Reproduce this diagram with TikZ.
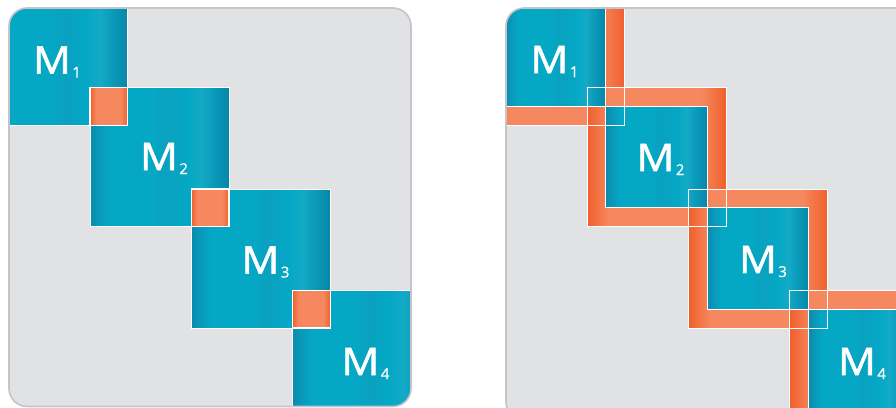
\documentclass[tikz,border=0pt]{standalone}
\usepackage{fontspec}
\setmainfont{Open Sans}
\newfontfamily\labfont[FakeBold=1.6,FakeStretch=1.1]{Open Sans}
\newfontfamily\subfont[FakeBold=0.8]{Open Sans}
\definecolor{panelfill}{HTML}{E1E2E4}
\definecolor{panelline}{HTML}{C4C5C8}
\definecolor{tA}{HTML}{0A8BAE}
\definecolor{tB}{HTML}{0A98B8}
\definecolor{tC}{HTML}{04A8C5}
\definecolor{tD}{HTML}{0AA1C0}
\definecolor{tE}{HTML}{14AAC6}
\definecolor{tF}{HTML}{0686A9}
\definecolor{oA}{HTML}{F0602C}
\definecolor{oB}{HTML}{F5885E}
\pgfdeclarehorizontalshading{tealsh}{100bp}{color(0bp)=(tA); color(25bp)=(tA); color(28bp)=(tB); color(32bp)=(tC); color(47bp)=(tC); color(52bp)=(tD); color(60bp)=(tC); color(65bp)=(tE); color(70bp)=(tB); color(75bp)=(tF); color(100bp)=(tF)}
\pgfdeclarehorizontalshading{orangesh}{100bp}{color(0bp)=(oA); color(25bp)=(oA); color(33bp)=(oB); color(66bp)=(oB); color(75bp)=(oA); color(100bp)=(oA)}
\newcommand\mlab[1]{{\labfont M}\kern1.5pt\raisebox{-4pt}{\subfont\fontsize{15}{15}\selectfont #1}}
\tikzset{
  panel/.style={rounded corners=18pt},
  paneledge/.style={draw=panelline, line width=1.6pt, rounded corners=18pt},
  tealblk/.style={shading=tealsh},
  orangeblk/.style={shading=orangesh},
  wline/.style={draw=white, line width=0.9pt},
  wlinethick/.style={draw=white, line width=1.3pt},
  lab/.style={text=white, inner sep=0pt, font=\fontsize{38}{38}\selectfont}
}
\begin{document}
\begin{tikzpicture}[x=1pt,y=-1pt]
\useasboundingbox (0,0) rectangle (896,407);
% ---------------- left panel ----------------
\fill[panelfill, panel] (9,8) rectangle (411,406.5);
\begin{scope}
  \clip[panel] (9,8) rectangle (411,406.5);
  \foreach \i in {0,...,3}{
    \pgfmathsetmacro\xa{-11.25+101.25*\i}
    \pgfmathsetmacro\ya{-13.5+101.25*\i}
    \shade[tealblk] (\xa,\ya) rectangle ++(139,139);
  }
  \foreach \i in {0,...,3}{
    \pgfmathsetmacro\xa{-11.25+101.25*\i}
    \pgfmathsetmacro\ya{-13.5+101.25*\i}
    \draw[wline] (\xa,\ya) rectangle ++(139,139);
  }
  \foreach \i in {1,2,3}{
    \pgfmathsetmacro\xa{-11.25+101.25*\i}
    \pgfmathsetmacro\ya{-13.5+101.25*\i}
    \shade[orangeblk] (\xa,\ya) rectangle ++(37.75,37.75);
    \draw[wlinethick] (\xa,\ya) rectangle ++(37.75,37.75);
  }
\end{scope}
\draw[paneledge] (9,8) rectangle (411,406.5);
\node[lab] (a1) at (57,62) {\mlab{1}};
\node[lab] (a2) at (164,158.5) {\mlab{2}};
\node[lab] (a3) at (265.5,262) {\mlab{3}};
\node[lab] (a4) at (365.5,363.5) {\mlab{4}};
% ---------------- right panel ----------------
\fill[panelfill, panel] (506,8) rectangle (915,420);
\begin{scope}
  \clip[panel] (506,8) rectangle (915,420);
  \foreach \i in {0,...,3}{
    \pgfmathsetmacro\xa{485.75+101.25*\i}
    \pgfmathsetmacro\ya{-13.5+101.25*\i}
    \shade[orangeblk] (\xa,\ya) rectangle ++(139,139);
  }
  \foreach \i in {0,...,3}{
    \pgfmathsetmacro\xa{485.75+18.875+101.25*\i}
    \pgfmathsetmacro\ya{-13.5+18.875+101.25*\i}
    \shade[tealblk] (\xa,\ya) rectangle ++(101.25,101.25);
  }
  \foreach \i in {0,...,3}{
    \pgfmathsetmacro\xa{485.75+101.25*\i}
    \pgfmathsetmacro\ya{-13.5+101.25*\i}
    \draw[wline] (\xa,\ya) rectangle ++(139,139);
    \draw[wline] (\xa+18.875,\ya+18.875) rectangle ++(101.25,101.25);
  }
\end{scope}
\draw[paneledge] (506,8) rectangle (915,420);
\node[lab] (b1) at (554.5,61.5) {\mlab{1}};
\node[lab] (b2) at (660.5,159.5) {\mlab{2}};
\node[lab] (b3) at (763,261.5) {\mlab{3}};
\node[lab] (b4) at (862,363.5) {\mlab{4}};
\end{tikzpicture}
\end{document}
